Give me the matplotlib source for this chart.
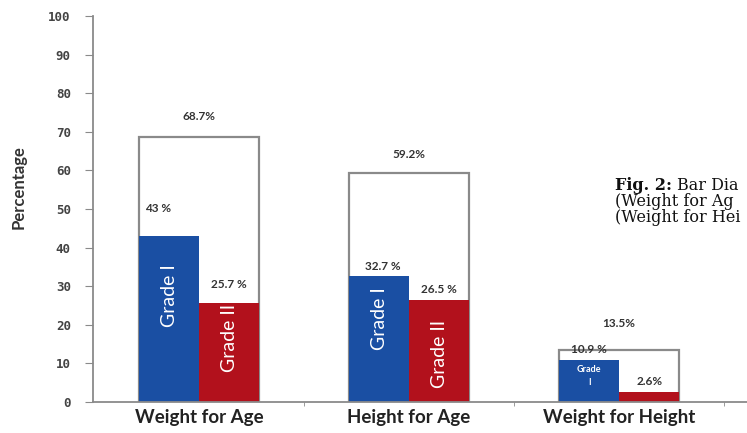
import numpy as np
import matplotlib.pyplot as plt

categories = ['Weight for Age', 'Height for Age', 'Weight for Height']
grade1 = [43.0, 32.7, 10.9]
grade2 = [25.7, 26.5, 2.6]
total = [68.7, 59.2, 13.5]
grade1_labels = ['43 %', '32.7 %', '10.9 %']
grade2_labels = ['25.7 %', '26.5 %', '2.6%']
total_labels = ['68.7%', '59.2%', '13.5%']

blue = '#1a4fa3'
red = '#b2111c'
grey = '#8a8a8a'

W, H = 747, 433
left, bottom, top = 93, 402, 16

fig = plt.figure(figsize=(W / 100, H / 100), dpi=100)
ax = fig.add_axes([left / W, 1 - bottom / H, 1 - left / W, (bottom - top) / H])

x = np.arange(len(categories))
w = 0.286

# outlined box for the total, grade bars inside it
ax.bar(x, total, width=2 * w, facecolor='white', edgecolor=grey, linewidth=1.6, zorder=1)
ax.bar(x - w / 2, grade1, width=w, color=blue, zorder=2)
ax.bar(x + w / 2, grade2, width=w, color=red, zorder=2)

tfont = dict(fontsize=8.5, fontweight='bold', color='#333333', family='Lato')
total_off = [5.3, 5.0, 6.8]
g1_off = [7.0, 2.4, 2.6]
g2_off = [4.7, 2.6, 2.6]
g1_dx = [-0.05, 0.02, 0.0]
for i in range(len(categories)):
    ax.text(x[i], total[i] + total_off[i], total_labels[i], ha='center', va='center', **tfont)
    ax.text(x[i] - w / 2 + g1_dx[i], grade1[i] + g1_off[i], grade1_labels[i], ha='center', va='center', **tfont)
    ax.text(x[i] + w / 2, grade2[i] + g2_off[i], grade2_labels[i], ha='center', va='center', **tfont)

# grade names inside the bars
g1_y = [27.5, 21.5]
g2_y = [16.5, 12.5]
for i in range(2):
    ax.text(x[i] - w / 2, g1_y[i], 'Grade I', rotation=90, ha='center', va='center',
            color='white', fontsize=14, family='Lato')
    ax.text(x[i] + w / 2, g2_y[i], 'Grade II', rotation=90, ha='center', va='center',
            color='white', fontsize=14, family='Lato')
ax.text(x[2] - w / 2, 6.8, 'Grade\nI', ha='center', va='center', color='white',
        fontsize=6.5, fontweight='bold', family='Lato', linespacing=1.5)

ax.set_xlim(-0.505, 2.609)
ax.set_ylim(0, 100)
ax.set_yticks(np.arange(0, 101, 10))
ax.set_xticks(x)
ax.set_xticklabels(categories, fontsize=13.5, fontweight='bold', color='#222222', family='Lato')
ax.set_xticks([0.5, 1.5, 2.5], minor=True)
ax.tick_params(axis='x', which='major', length=0, pad=5)
ax.tick_params(axis='x', which='minor', length=3, color=grey)
ax.tick_params(axis='y', length=6, color=grey, labelsize=9, labelcolor='#444444', pad=10)
for lab in ax.get_yticklabels():
    lab.set_fontweight('bold')
    lab.set_family('DejaVu Sans Mono')
ax.set_ylabel('Percentage', fontsize=12, fontweight='bold', color='#333333', family='Lato')
ax.yaxis.set_label_coords((27 - left) / (W - left), 1 - (187 - top) / (bottom - top))

for s in ['top', 'right']:
    ax.spines[s].set_visible(False)
for s in ['left', 'bottom']:
    ax.spines[s].set_color(grey)
    ax.spines[s].set_linewidth(1.3)

# caption beside the chart, running off the right edge
cap = dict(family='DejaVu Serif', fontsize=11.5, color='#111111', va='center', ha='left')
fig.text(615 / W, 1 - 186 / H, 'Fig. 2:', fontweight='bold', **cap)
fig.text(677 / W, 1 - 186 / H, 'Bar Dia', **cap)
fig.text(615 / W, 1 - 202 / H, '(Weight for Ag', **cap)
fig.text(615 / W, 1 - 218 / H, '(Weight for Hei', **cap)

fig.savefig('out.png', dpi=100)
